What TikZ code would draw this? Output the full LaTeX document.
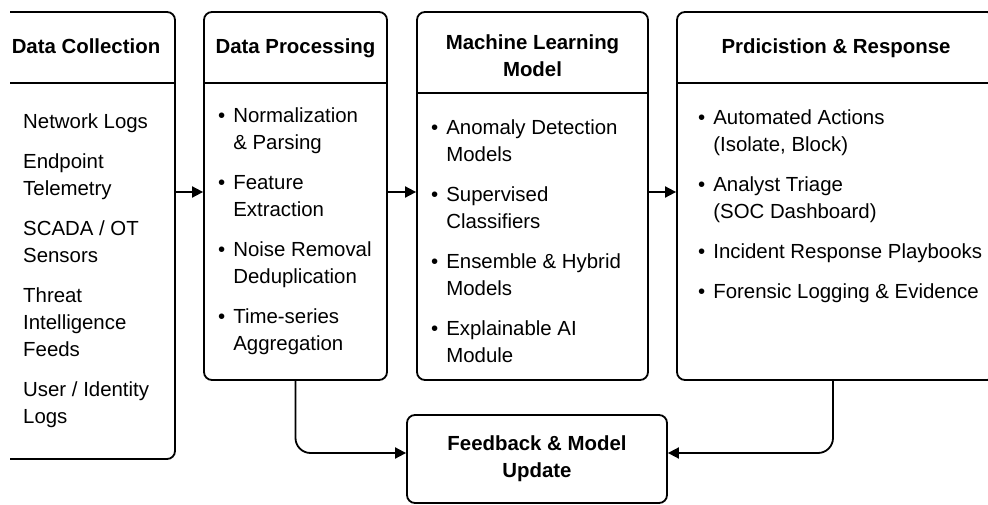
\documentclass[tikz,border=0pt]{standalone}
\usepackage{fontspec}
\setmainfont{Liberation Sans}
\usetikzlibrary{arrows.meta}

\newcommand{\bodyfont}{\fontsize{20.4}{27}\selectfont}

\begin{document}
\begin{tikzpicture}[x=1pt, y=-1pt,
        frame/.style={draw, rectangle, rounded corners=8pt, line width=1.8pt, inner sep=0pt},
        title/.style={font=\bodyfont\bfseries, align=center, inner sep=0pt},
        items/.style={anchor=north west, inner sep=0pt, font=\bodyfont},
        arr/.style={-{Triangle[length=11pt,width=11pt]}, line width=1.8pt}
    ]
    \useasboundingbox (0,0) rectangle (988,505);
    \coordinate (rule) at (0,83);
    \coordinate (flow) at (0,192);
    \coordinate (loop) at (0,453);

        % Data Collection (runs off the left edge)
        \begin{scope}
            \clip (10,0) rectangle (190,505);
            \node[frame, minimum width=178pt, minimum height=447pt] (collect) at (86,235.5) {};
            \draw[line width=1.8pt] (collect.west |- rule) -- (collect.east |- rule);
        \end{scope}
        \node[title, anchor=base] (collect-t) at (86,54) {Data Collection};
        \node[items] (collect-list) at (23,109) {\begin{tabular}{@{}l@{}}
            Network Logs\\[13pt]
            Endpoint\\ Telemetry\\[13pt]
            SCADA / OT\\ Sensors\\[13pt]
            Threat\\ Intelligence\\ Feeds\\[13pt]
            User / Identity\\ Logs
        \end{tabular}};

        % Data Processing
        \node[frame, minimum width=183pt, minimum height=368pt] (proc) at (295.5,196) {};
        \draw[line width=1.8pt] (proc.west |- rule) -- (proc.east |- rule);
        \node[title, anchor=base] (proc-t) at (295.5,54) {Data Processing};
        \node[items] (proc-list) at (218,103) {\begin{tabular}{@{}l@{\hspace{8pt}}l@{}}
            \textbullet & Normalization\\ & \& Parsing\\[13pt]
            \textbullet & Feature\\ & Extraction\\[13pt]
            \textbullet & Noise Removal\\ & Deduplication\\[13pt]
            \textbullet & Time-series\\ & Aggregation
        \end{tabular}};
        \draw[arr] (collect.east |- flow) -- (proc.west |- flow);

        % Machine Learning Model
        \node[frame, minimum width=231pt, minimum height=368pt] (model) at (532.5,196) {};
        \draw[line width=1.8pt] (model.west |- 0,93) -- (model.east |- 0,93);
        \node[title] (model-t) at (532.5,56) {Machine Learning\\Model};
        \node[items] (model-list) at (431,115) {\begin{tabular}{@{}l@{\hspace{8pt}}l@{}}
            \textbullet & Anomaly Detection\\ & Models\\[13pt]
            \textbullet & Supervised\\ & Classifiers\\[13pt]
            \textbullet & Ensemble \& Hybrid\\ & Models\\[13pt]
            \textbullet & Explainable AI\\ & Module
        \end{tabular}};
        \draw[arr] (proc.east |- flow) -- (model.west |- flow);

        % Prediction & Response (runs off the right edge)
        \node[frame, minimum width=318pt, minimum height=368pt] (resp) at (836,196) {};
        \draw[line width=1.8pt] (resp.west |- rule) -- (resp.east |- rule);
        \node[title, anchor=base] (resp-t) at (836,54) {Prdicistion \& Response};
        \node[items] (resp-list) at (698,105) {\begin{tabular}{@{}l@{\hspace{8pt}}l@{}}
            \textbullet & Automated Actions\\ & (Isolate, Block)\\[13pt]
            \textbullet & Analyst Triage\\ & (SOC Dashboard)\\[13pt]
            \textbullet & Incident Response Playbooks\\[13pt]
            \textbullet & Forensic Logging \& Evidence
        \end{tabular}};
        \draw[arr] (model.east |- flow) -- (resp.west |- flow);

        % Feedback loop
        \node[frame, title, minimum width=260pt, minimum height=88pt] (feed) at (537,459) {Feedback \& Model\\Update};
        \draw[arr, rounded corners=15pt] (proc.south) |- (feed.west |- loop);
        \draw[arr, rounded corners=15pt] ([xshift=-3pt]resp.south) |- (feed.east |- loop);

    \end{tikzpicture}
\end{document}
